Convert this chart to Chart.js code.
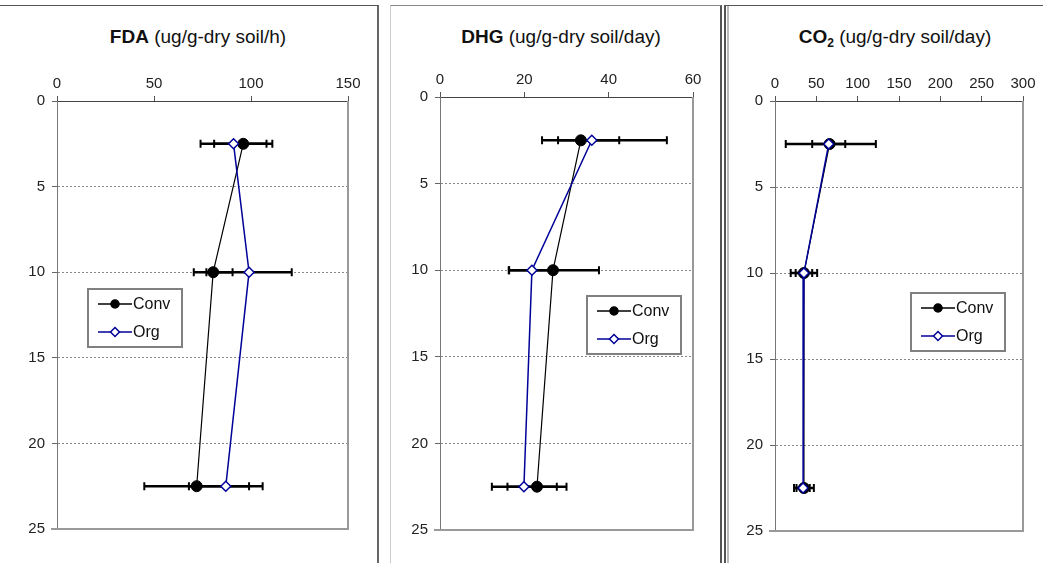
<!DOCTYPE html>
<html>
<head>
<meta charset="utf-8">
<script src="https://cdn.jsdelivr.net/npm/chart.js@4.4.0/dist/chart.umd.min.js"></script>
<style>
body { margin: 0; background: #fff; width: 1043px; height: 563px; position: relative; overflow: hidden;
       font-family: "Liberation Sans", Arial, sans-serif; }
.box { position: absolute; box-sizing: border-box; }
.ttl { position: absolute; font-size: 19px; color: #111; white-space: nowrap; transform: translate(-50%, -50%); }
.ttl sub { font-size: 12px; }
canvas { position: absolute; }
</style>
</head>
<body>
<div class="box" style="left:-2px;top:5px;width:381px;height:570px;border-top:1px solid #555;border-right:2px solid #666"></div>
<div class="box" style="left:390px;top:5px;width:332px;height:570px;border-top:1px solid #888;border-left:1px solid #ccc;border-right:2px solid #555"></div>
<div class="box" style="left:724px;top:5px;width:330px;height:570px;border-top:1px solid #555;border-left:2px solid #555"></div>
<div class="box" style="left:727px;top:6px;width:2px;height:570px;background:#bbb"></div>

<div class="ttl" style="left:198px;top:37px"><b>FDA</b> (ug/g-dry soil/h)</div>
<div class="ttl" style="left:561px;top:37px"><b>DHG</b> (ug/g-dry soil/day)</div>
<div class="ttl" style="left:895px;top:38px"><b>CO<sub>2</sub></b> (ug/g-dry soil/day)</div>

<canvas id="fda" width="378" height="557" style="left:0px;top:6px"></canvas>
<canvas id="dhg" width="329" height="557" style="left:391px;top:6px"></canvas>
<canvas id="co2" width="318" height="557" style="left:725px;top:6px"></canvas>

<script>
// depth (cm) of each sample
var depths = [2.5, 10, 22.5];
var seriesNames = ["Conv", "Org"];

// FDA
var fdaConv = [96, 80.5, 72];
var fdaConvLo = [81, 70.5, 45];
var fdaConvHi = [111, 90.5, 99];
var fdaOrg = [91, 99, 87];
var fdaOrgLo = [74, 77, 68];
var fdaOrgHi = [108, 121, 106];

// DHG
var dhgConv = [33.4, 26.8, 23];
var dhgConvLo = [24.2, 16.3, 16];
var dhgConvHi = [42.5, 37.7, 30];
var dhgOrg = [36, 21.8, 19.9];
var dhgOrgLo = [28, 16.4, 12.3];
var dhgOrgHi = [53.8, 27.5, 27.7];

// CO2
var co2Conv = [66, 35, 35];
var co2ConvLo = [13, 19, 23];
var co2ConvHi = [122, 51, 47];
var co2Org = [65, 35, 34];
var co2OrgLo = [45, 25, 26];
var co2OrgHi = [85, 45, 42];

var tickFont = { family: "'Liberation Sans', Arial, sans-serif", size: 15 };
var orgBlue = "#000099";

function pts(vals) {
  return vals.map(function (v, i) { return { x: v, y: depths[i] }; });
}

var errorBars = {
  id: "errorBars",
  beforeDatasetsDraw: function (chart) {
    var ctx = chart.ctx, xs = chart.scales.x, ys = chart.scales.y;
    var a = chart.chartArea;
    // plot frame (right and bottom)
    ctx.save();
    ctx.strokeStyle = "#999";
    ctx.lineWidth = 2;
    ctx.beginPath();
    ctx.moveTo(a.right, a.top);
    ctx.lineTo(a.right, a.bottom);
    ctx.lineTo(a.left - 6, a.bottom);
    ctx.stroke();
    ctx.strokeStyle = "#000";
    chart.data.datasets.forEach(function (ds) {
      ds.errLo.forEach(function (lo, i) {
        var y = ys.getPixelForValue(depths[i]);
        var x1 = xs.getPixelForValue(lo);
        var x2 = xs.getPixelForValue(ds.errHi[i]);
        ctx.lineWidth = 2.5;
        ctx.beginPath();
        ctx.moveTo(x1, y);
        ctx.lineTo(x2, y);
        ctx.stroke();
        ctx.lineWidth = 2;
        ctx.beginPath();
        ctx.moveTo(x1, y - 4); ctx.lineTo(x1, y + 4);
        ctx.moveTo(x2, y - 4); ctx.lineTo(x2, y + 4);
        ctx.stroke();
      });
    });
    ctx.restore();
  }
};

var boxLegend = {
  id: "boxLegend",
  afterDraw: function (chart) {
    var o = chart.options.plugins.boxLegend;
    var a = chart.chartArea, ctx = chart.ctx;
    var bx = Math.round(a.left + o.fx * a.width), by = Math.round(a.top + o.fy * a.height);
    ctx.save();
    ctx.fillStyle = "#fff";
    ctx.fillRect(bx, by, 94, 58);
    ctx.strokeStyle = "#808080";
    ctx.lineWidth = 2;
    ctx.strokeRect(bx, by, 94, 58);
    var ordered = [chart.data.datasets[1], chart.data.datasets[0]];
    ordered.forEach(function (ds, k) {
      var y = by + 15 + k * 28;
      ctx.strokeStyle = ds.borderColor;
      ctx.lineWidth = 1.5;
      ctx.beginPath();
      ctx.moveTo(bx + 10, y);
      ctx.lineTo(bx + 44, y);
      ctx.stroke();
      ctx.fillStyle = ds.pointBackgroundColor;
      ctx.strokeStyle = ds.pointBorderColor;
      ctx.beginPath();
      if (ds.pointStyle === "circle") {
        ctx.arc(bx + 27, y, 4, 0, Math.PI * 2);
      } else {
        ctx.moveTo(bx + 27, y - 4.5); ctx.lineTo(bx + 31.5, y);
        ctx.lineTo(bx + 27, y + 4.5); ctx.lineTo(bx + 22.5, y); ctx.closePath();
      }
      ctx.fill();
      ctx.stroke();
      ctx.fillStyle = "#111";
      ctx.font = "16px 'Liberation Sans', Arial, sans-serif";
      ctx.textBaseline = "middle";
      ctx.fillText(ds.label, bx + 45, y + 1);
    });
    ctx.restore();
  }
};

function panel(id, xMax, xStep, conv, convLo, convHi, org, orgLo, orgHi, lay) {
  new Chart(document.getElementById(id).getContext("2d"), {
    type: "scatter",
    data: {
      datasets: [{
        label: seriesNames[1],
        data: pts(org),
        errLo: orgLo, errHi: orgHi,
        showLine: true,
        borderColor: orgBlue,
        borderWidth: 1.5,
        pointStyle: "rectRot",
        pointRadius: 5,
        pointBackgroundColor: "#fff",
        pointBorderColor: orgBlue,
        pointBorderWidth: 1.5,
        order: 0
      }, {
        label: seriesNames[0],
        data: pts(conv),
        errLo: convLo, errHi: convHi,
        showLine: true,
        borderColor: "#000",
        borderWidth: 1.2,
        pointStyle: "circle",
        pointRadius: 5.5,
        pointBackgroundColor: "#000",
        pointBorderColor: "#000",
        pointBorderWidth: 1,
        order: 1
      }]
    },
    options: {
      responsive: false,
      animation: false,
      devicePixelRatio: 1,
      layout: { padding: { top: 0, left: 0, right: lay.right, bottom: lay.bottom } },
      plugins: {
        legend: { display: false },
        tooltip: { enabled: false },
        boxLegend: { fx: lay.fx, fy: lay.fy }
      },
      scales: {
        x: {
          type: "linear", position: "top", min: 0, max: xMax,
          ticks: { stepSize: xStep, font: tickFont, color: "#222", padding: 3, autoSkip: false, maxRotation: 0 },
          grid: { drawOnChartArea: false, tickLength: 5, color: "#555" },
          border: { color: "#444" },
          afterFit: function (s) { s.height = lay.top; }
        },
        y: {
          type: "linear", reverse: true, min: 0, max: 25,
          ticks: { stepSize: 5, font: tickFont, color: "#222", padding: 7 },
          grid: {
            color: function (c) {
              return (c.tick && (c.tick.value === 0 || c.tick.value === 25)) ? "rgba(0,0,0,0)" : "#888";
            },
            tickColor: "#666", tickLength: 5
          },
          border: { color: "#777", dash: [2, 2] },
          afterFit: function (s) { s.width = lay.left; }
        }
      }
    },
    plugins: [errorBars, boxLegend]
  });
}

panel("fda", 150, 50, fdaConv, fdaConvLo, fdaConvHi, fdaOrg, fdaOrgLo, fdaOrgHi,
  { left: 57, top: 95, right: 30, bottom: 34, fx: 0.107, fy: 0.44 });
panel("dhg", 60, 20, dhgConv, dhgConvLo, dhgConvHi, dhgOrg, dhgOrgLo, dhgOrgHi,
  { left: 49, top: 91, right: 27, bottom: 33, fx: 0.58, fy: 0.46 });
panel("co2", 300, 50, co2Conv, co2ConvLo, co2ConvHi, co2Org, co2OrgLo, co2OrgHi,
  { left: 50, top: 95, right: 20, bottom: 32, fx: 0.548, fy: 0.447 });
</script>
</body>
</html>
